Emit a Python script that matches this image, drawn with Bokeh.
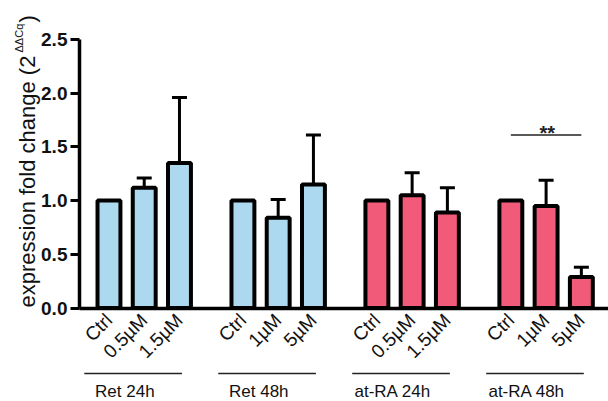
from math import pi
from bokeh.plotting import figure
from bokeh.models import (Range1d, FixedTicker, PrintfTickFormatter, Whisker, TeeHead,
                          ColumnDataSource)
from bokeh.core.properties import value
from bokeh.embed import file_html
from bokeh.resources import INLINE

# ---- data ----
groups = ["Ret 24h", "Ret 48h", "at-RA 24h", "at-RA 48h"]
doses = [["Ctrl", "0.5\u00b5M", "1.5\u00b5M"],
         ["Ctrl", "1\u00b5M", "5\u00b5M"],
         ["Ctrl", "0.5\u00b5M", "1.5\u00b5M"],
         ["Ctrl", "1\u00b5M", "5\u00b5M"]]
means = [[1.0, 1.12, 1.35],
         [1.0, 0.84, 1.15],
         [1.0, 1.05, 0.89],
         [1.0, 0.95, 0.29]]
errors = [[0.0, 0.09, 0.61],
          [0.0, 0.17, 0.46],
          [0.0, 0.21, 0.23],
          [0.0, 0.24, 0.09]]
group_colors = ["#acd9ef", "#acd9ef", "#f25a7a", "#f25a7a"]
y_ticks = [0.0, 0.5, 1.0, 1.5, 2.0, 2.5]
y_label_main = "expression fold change (2"
y_label_sup = "\u0394\u0394Cq"
y_label_end = ")"
sig_group = 3
sig_pair = (0, 2)
sig_level = 1.61
sig_text = "**"

# ---- layout ----
GROUP_STEP = 3.8
AXIS_X = -0.837
FONT = "Liberation Sans"

xs, tops, cols, labels = [], [], [], []
ex, etop, ebot = [], [], []
for g, (dl, ml, el) in enumerate(zip(doses, means, errors)):
    for i, (d, m, e) in enumerate(zip(dl, ml, el)):
        x = g * GROUP_STEP + i
        xs.append(x)
        tops.append(m)
        cols.append(group_colors[g])
        labels.append(d)
        if e > 0:
            ex.append(x)
            ebot.append(m)
            etop.append(m + e)

p = figure(width=608, height=401, output_backend="svg", toolbar_location=None,
           x_range=Range1d(-3.077, 14.17), y_range=Range1d(-0.87, 2.863),
           min_border_left=0, min_border_right=0, min_border_top=0, min_border_bottom=0)
p.outline_line_color = None
p.grid.visible = False
p.background_fill_color = "white"

bars = ColumnDataSource(dict(x=xs, top=tops, color=cols))
p.vbar(x="x", top="top", bottom=0, width=0.65, source=bars, fill_color="color",
       line_color="black", line_width=4)

err_src = ColumnDataSource(dict(x=ex, upper=etop, lower=ebot))
p.add_layout(Whisker(base="x", upper="upper", lower="lower", source=err_src,
                     line_width=3, line_color="black",
                     upper_head=TeeHead(size=15, line_width=3, line_color="black"),
                     lower_head=None))

# x axis at y=0
xa = p.xaxis[0]
xa.fixed_location = 0
xa.bounds = (AXIS_X, 14.17)
xa.ticker = FixedTicker(ticks=xs)
xa.major_label_overrides = {x: l for x, l in zip(xs, labels)}
xa.major_label_orientation = pi / 4
xa.major_label_text_font = FONT
xa.major_label_text_font_size = "19px"
xa.major_label_text_color = "#111111"
xa.major_label_standoff = 3
xa.major_tick_line_color = None
xa.minor_tick_line_color = None
xa.axis_line_width = 3.5
xa.axis_line_color = "black"

# y axis at its spine position
ya = p.yaxis[0]
ya.fixed_location = AXIS_X
ya.bounds = (0, 2.5)
ya.ticker = FixedTicker(ticks=y_ticks)
ya.formatter = PrintfTickFormatter(format="%.1f")
ya.major_label_text_font = FONT
ya.major_label_text_font_style = "bold"
ya.major_label_text_font_size = "19px"
ya.major_label_text_color = "#111111"
ya.major_tick_out = 9
ya.major_tick_in = 0
ya.major_tick_line_width = 3
ya.minor_tick_line_color = None
ya.axis_line_width = 3.5
ya.major_label_standoff = 3

# group underlines and names
gx0 = [g * GROUP_STEP - 0.7 for g in range(len(groups))]
gx1 = [g * GROUP_STEP + 2.07 for g in range(len(groups))]
p.segment(x0=gx0, x1=gx1, y0=-0.61, y1=-0.61, line_color="#222222", line_width=1.5)
p.text(x=[g * GROUP_STEP + 0.45 for g in range(len(groups))], y=[-0.775] * len(groups),
       text=groups, text_font=value(FONT), text_font_size="17px", text_align="center",
       text_baseline="alphabetic", text_color="#111111")

# significance
sx0 = sig_group * GROUP_STEP + sig_pair[0]
sx1 = sig_group * GROUP_STEP + sig_pair[1]
p.segment(x0=[sx0], x1=[sx1], y0=[sig_level], y1=[sig_level], line_color="#222222", line_width=1.5)
p.text(x=[(sx0 + sx1) / 2 + 0.03], y=[sig_level + 0.02], text=[sig_text], text_font=value(FONT),
       text_font_size="20px", text_font_style="bold", text_align="center",
       text_baseline="alphabetic", text_color="#222222")

# y axis label with superscript (rotated text glyphs)
p.text(x=[-2.31], y=[0.005], text=[y_label_main], angle=pi / 2,
       text_font=value(FONT), text_font_size="22px", text_align="left",
       text_baseline="alphabetic", text_color="#111111")
p.text(x=[-2.56], y=[2.379], text=[y_label_sup], angle=pi / 2,
       text_font=value(FONT), text_font_size="11px", text_align="left",
       text_baseline="alphabetic", text_color="#111111")
p.text(x=[-2.31], y=[2.658], text=[y_label_end], angle=pi / 2,
       text_font=value(FONT), text_font_size="22px", text_align="left",
       text_baseline="alphabetic", text_color="#111111")

open("out.html", "w").write(file_html(p, INLINE))
